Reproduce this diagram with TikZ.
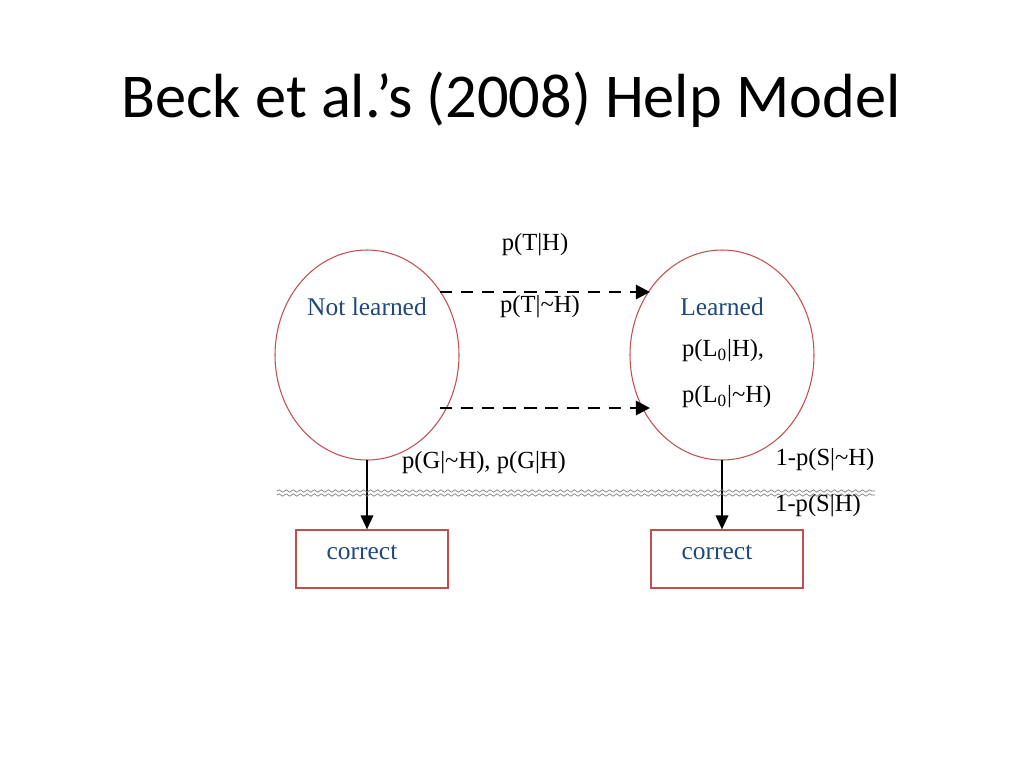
\documentclass[tikz,border=0pt]{standalone}
\usepackage{fontspec}
\setmainfont{Liberation Serif}
\newfontfamily\titlefont{Carlito}
\usetikzlibrary{positioning,decorations.pathmorphing,arrows.meta,shapes.geometric}
\definecolor{statered}{RGB}{192,80,77}
\definecolor{stateblue}{RGB}{31,73,125}
\newlength{\px}\setlength{\px}{0.02cm}
\tikzset{
  state/.style={draw=statered, semithick, ellipse, minimum width=184\px, minimum height=210\px, inner sep=0pt},
  outbox/.style={draw=statered, semithick, minimum width=152\px, minimum height=58\px, inner sep=0pt},
  trans/.style={line width=1.6pt, dash pattern=on 7pt off 5pt, -{Triangle[length=8pt,width=8pt]}},
  emit/.style={line width=1.4pt, -{Triangle[length=8pt,width=7pt]}},
  prob/.style={font=\fontsize{14}{16}\selectfont, inner sep=1pt},
  statelab/.style={font=\fontsize{14.5}{16}\selectfont, text=stateblue},
  wave/.style={gray, decorate, decoration={snake, amplitude=0.7pt, segment length=4pt}}
}
\begin{document}
\begin{tikzpicture}[x=0.02cm,y=-0.02cm]
\useasboundingbox (0,0) rectangle (1024,768);
\node[font=\titlefont\fontsize{35.5}{38}\selectfont] (title) at (511,100) {Beck et al.’s (2008) Help Model};
% states
\node[state] (NL) at (367,355) {};
\node[state] (L) at (722,355) {};
\node[statelab] (NLlab) at (367,307) {Not learned};
\node[statelab] (Llab) at (722,307) {Learned};
% outputs
\node[outbox] (C1) at (372,559) {};
\node[outbox] (C2) at (727,559) {};
\node[statelab] at (362,552) {correct};
\node[statelab] at (717,552) {correct};
% transitions
\coordinate (t1) at (440,292); \coordinate (t2) at (650,292);
\coordinate (b1) at (440,408); \coordinate (b2) at (650,408);
\draw[trans] (t1) -- (t2);
\draw[trans] (b1) -- (b2);
\coordinate (e1) at (367,460); \coordinate (e2) at (722,460);
\draw[emit] (e1) -- (e1 |- C1.north);
\draw[emit] (e2) -- (e2 |- C2.north);
% wavy line
\coordinate (w1) at (277,491); \coordinate (w2) at (875,491);
\coordinate (w3) at (277,495); \coordinate (w4) at (875,495);
\draw[wave] (w1) -- (w2);
\draw[wave] (w3) -- (w4);
% probabilities
\node[prob] at (535,245) {p(T|H)};
\node[prob] at (540,307) {p(T|\textasciitilde H)};
\node[prob, anchor=west] at (680,351) {p(L\textsubscript{0}|H),};
\node[prob, anchor=west] at (680,397) {p(L\textsubscript{0}|\textasciitilde H)};
\node[prob] at (484,463) {p(G|\textasciitilde H), p(G|H)};
\node[prob] at (825,460) {1-p(S|\textasciitilde H)};
\node[prob] at (818,506) {1-p(S|H)};
\end{tikzpicture}
\end{document}
